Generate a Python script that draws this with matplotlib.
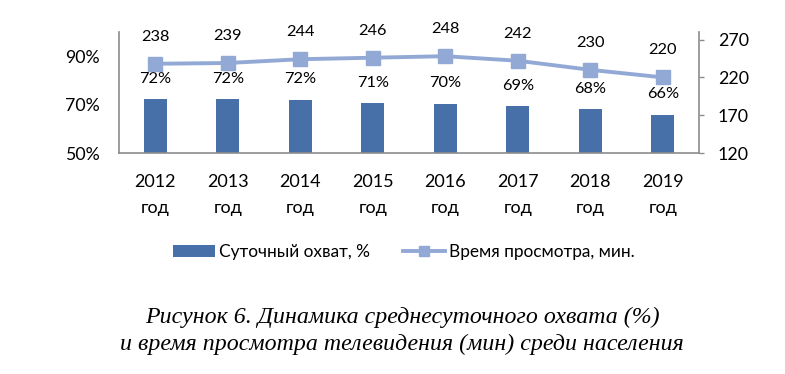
import matplotlib
matplotlib.use("Agg")
import matplotlib.pyplot as plt
from matplotlib.ticker import FuncFormatter

plt.rcParams['font.family'] = ['Lato', 'DejaVu Sans']

years = ["2012\nгод", "2013\nгод", "2014\nгод", "2015\nгод", "2016\nгод", "2017\nгод", "2018\nгод", "2019\nгод"]
reach = [72.4, 72.3, 72.1, 70.8, 70.4, 69.4, 68.1, 65.9]
reach_labels = ["72%", "72%", "72%", "71%", "70%", "69%", "68%", "66%"]
minutes = [238, 239, 244, 246, 248, 242, 230, 220]
left_ticks = [50, 70, 90]
right_ticks = [120, 170, 220, 270]

bar_color = "#4870A8"
line_color = "#93A9D5"
spine_color = "#8C8C8C"

fig = plt.figure(figsize=(7.85, 3.74), dpi=100)
ax = fig.add_axes([119/785, 1-153/374, (699-119)/785, (153-32)/374])
ax2 = ax.twinx()

x = list(range(len(years)))
bars = ax.bar(x, reach, width=0.32, color=bar_color, zorder=2, label="Суточный охват, %")
ax.set_ylim(50, 100)
ax.set_xlim(-0.5, len(years) - 0.5)
ax.set_yticks(left_ticks)
ax.yaxis.set_major_formatter(FuncFormatter(lambda v, p: f"{v:.0f}%"))
ax.set_xticks(x)
ax.set_xticklabels(years, fontsize=13, linespacing=1.75)
ax.tick_params(axis='x', length=0, pad=15)
ax.tick_params(axis='y', length=0, pad=14, labelsize=12.8)

for xi, v, lab in zip(x, reach, reach_labels):
    ax.annotate(lab, (xi, v), xytext=(0, 14.5), textcoords='offset points',
                ha='center', va='center', fontsize=11.8, color='black')

line, = ax2.plot(x, minutes, color=line_color, lw=2.8, marker='s', markersize=10.5,
                 label="Время просмотра, мин.", zorder=3)
ax2.set_ylim(120, 280)
ax2.set_yticks(right_ticks)
ax2.tick_params(axis='y', length=3.5, width=1, color=spine_color, pad=10, labelsize=12.8)
for xi, v in zip(x, minutes):
    ax2.annotate(str(v), (xi, v), xytext=(0, 19.5), textcoords='offset points',
                 ha='center', va='center', fontsize=11.8, color='black')

for a in (ax, ax2):
    a.spines['top'].set_visible(False)
    for s in ('left', 'right', 'bottom'):
        a.spines[s].set_color(spine_color)
        a.spines[s].set_linewidth(1.2)
ax.spines['right'].set_visible(False)
ax2.spines['left'].set_visible(False)
ax2.spines['bottom'].set_visible(False)

fig.legend(handles=[bars, line], loc='center', bbox_to_anchor=(404/785, 1-252/374),
           ncol=2, frameon=False, fontsize=12.4, handlelength=2.45, handleheight=0.65,
           columnspacing=1.9, handletextpad=0.25, markerscale=0.7, borderpad=0)

fig.text(402/785, 1-323/374, "Рисунок 6. Динамика среднесуточного охвата (%)",
         ha='center', va='baseline', fontsize=17.2, style='italic', family='Liberation Serif')
fig.text(402/785, 1-350/374, "и время просмотра телевидения (мин) среди населения",
         ha='center', va='baseline', fontsize=17.2, style='italic', family='Liberation Serif')

fig.savefig("out.png", dpi=100)
